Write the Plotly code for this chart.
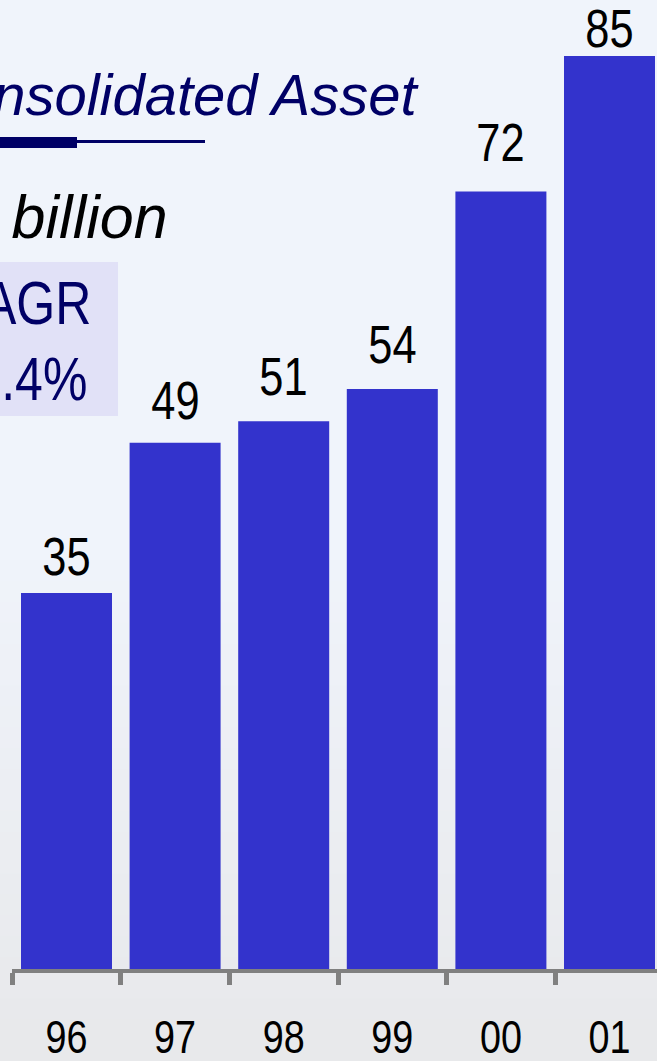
import plotly.graph_objects as go

# ---- data ----
years = ["96", "97", "98", "99", "00", "01"]
assets = [35, 49, 51, 54, 72.4, 85]
asset_labels = ["35", "49", "51", "54", "72", "85"]

title_text = "Consolidated Asset"
unit_text = "US$ billion"
cagr_title = "CAGR"
cagr_value = "19.4%"

# ---- style ----
W, H = 657, 1061
PLOT_BOTTOM = 969          # pixel of y=0
label_gap = [18, 24, 26, 26, 30, 9]   # px gap between label and bar top
SANS = "Liberation Sans, Arial, sans-serif"
NAVY = "#000066"
BAR = "#3333CC"


def px(p):
    return p / W


def py(p):
    return (PLOT_BOTTOM - p) / PLOT_BOTTOM


fig = go.Figure()
fig.add_trace(go.Bar(
    x=years, y=assets,
    marker=dict(color=BAR, line=dict(width=0)),
    hoverinfo="skip",
))

shapes = []
# soft background gradient (impression of the faded photo)
steps = 24
top, bottom = 560, 1061
for k in range(steps):
    y0 = top + (bottom - top) * k / steps
    y1 = top + (bottom - top) * (k + 1) / steps + 1
    t = (k + 1) / steps
    r = int(240 - 8 * t)
    g = int(244 - 11 * t)
    b = int(251 - 16 * t)
    shapes.append(dict(type="rect", xref="paper", yref="paper",
                       x0=0, x1=1, y0=py(y1), y1=py(y0),
                       fillcolor=f"rgb({r},{g},{b})", line=dict(width=0),
                       layer="below"))
# title underline
shapes.append(dict(type="rect", xref="paper", yref="paper",
                   x0=px(-5), x1=px(77), y0=py(148), y1=py(137),
                   fillcolor=NAVY, line=dict(width=0)))
shapes.append(dict(type="rect", xref="paper", yref="paper",
                   x0=px(77), x1=px(205), y0=py(143), y1=py(140),
                   fillcolor=NAVY, line=dict(width=0)))
# CAGR box
shapes.append(dict(type="rect", xref="paper", yref="paper",
                   x0=px(-120), x1=px(118), y0=py(416), y1=py(262),
                   fillcolor="#E1E1F7", line=dict(width=0), layer="below"))

annotations = [
    dict(text=title_text, xref="paper", yref="paper", x=px(421), y=py(95),
         xanchor="right", yanchor="middle", showarrow=False,
         font=dict(family=SANS, size=58, color=NAVY, style="italic")),
    dict(text=unit_text, xref="paper", yref="paper", x=px(170), y=py(217),
         xanchor="right", yanchor="middle", showarrow=False,
         font=dict(family=SANS, size=61, color="#000000", style="italic")),
    dict(text=cagr_title, xref="paper", yref="paper", x=px(19), y=py(303),
         xanchor="center", yanchor="middle", showarrow=False,
         font=dict(family=SANS, size=61, color=NAVY)),
    dict(text=cagr_value, xref="paper", yref="paper", x=px(16), y=py(379),
         xanchor="center", yanchor="middle", showarrow=False,
         font=dict(family=SANS, size=61, color=NAVY)),
]
for i, (v, lab, g) in enumerate(zip(assets, asset_labels, label_gap)):
    annotations.append(dict(text=lab, x=i, y=v, xref="x", yref="y",
                            xanchor="center", yanchor="bottom",
                            yshift=g - 13, showarrow=False,
                            font=dict(family=SANS, size=53, color="#000000")))

fig.update_layout(
    width=W, height=H,
    margin=dict(l=0, r=0, t=0, b=H - PLOT_BOTTOM, pad=0, autoexpand=False),
    paper_bgcolor="#F0F4FB",
    plot_bgcolor="rgba(0,0,0,0)",
    bargap=0.162,
    showlegend=False,
    shapes=shapes,
    annotations=annotations,
    xaxis=dict(
        type="category", categoryorder="array", categoryarray=years,
        domain=[12.2 / W, 1], range=[-0.5, -0.5 + (W - 12.2) / 108.6],
        automargin=False,
        showline=True, linecolor="#808080", linewidth=4,
        ticks="outside", tickson="boundaries", ticklen=12, tickwidth=5,
        tickcolor="#808080", showgrid=False, zeroline=False,
        tickfont=dict(family=SANS, size=46, color="#000000"),
        ticklabelstandoff=25,
    ),
    yaxis=dict(
        range=[0, PLOT_BOTTOM / 10.74], visible=False,
        showgrid=False, zeroline=False, automargin=False,
    ),
)

# condense the narrow-font texts (tick labels, CAGR box, value labels)
post = """
var gd = document.getElementById('{plot_id}');
function squeeze(){
  var nodes = [];
  gd.querySelectorAll('.xtick text').forEach(function(n){ nodes.push(n); });
  gd.querySelectorAll('g.annotation').forEach(function(g){
    var i = +g.getAttribute('data-index');
    if (i >= 2) g.querySelectorAll('text.annotation-text').forEach(function(n){ nodes.push(n); });
  });
  nodes.forEach(function(n){
    if (n.getAttribute('data-sq')) return;
    var w = n.getComputedTextLength();
    n.setAttribute('textLength', (w * 0.82).toFixed(1));
    n.setAttribute('lengthAdjust', 'spacingAndGlyphs');
    n.setAttribute('data-sq', '1');
  });
}
squeeze();
gd.on('plotly_afterplot', squeeze);
"""

fig.write_html("out.html", post_script=post)
